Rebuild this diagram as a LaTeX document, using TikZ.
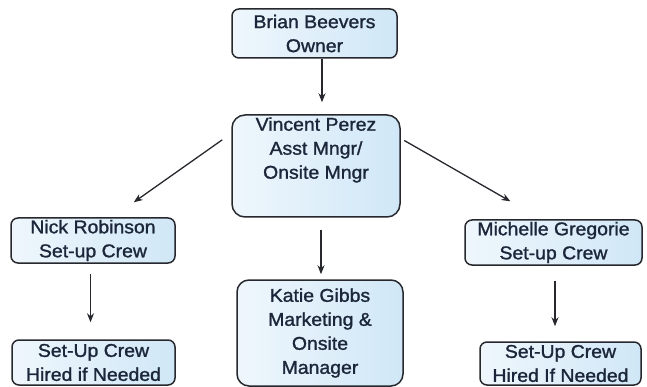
\documentclass[tikz,border=0pt]{standalone}
\usepackage{fontspec}
\setmainfont{Liberation Sans}[FakeStretch=1.05, FakeBold=1.3]
\usetikzlibrary{arrows.meta}

\definecolor{boxfill}{RGB}{208,231,247}
\definecolor{boxline}{RGB}{38,40,46}
\definecolor{boxtext}{RGB}{28,38,58}

\begin{document}
\begin{tikzpicture}[x=1pt, y=1pt,
    box/.style={draw=boxline, line width=1.5pt, left color=boxfill!35!white, right color=boxfill,
        rounded corners=7pt, align=center, text=boxtext, inner sep=0pt,
        font=\fontsize{18.5}{24}\selectfont},
    arr/.style={-{Stealth[length=9pt, width=7pt]}, line width=1.3pt, draw=boxline}]

    % Canvas
    \useasboundingbox (0,0) rectangle (647,-387);

    % Top level
    \node[box, minimum width=165pt, minimum height=49pt] (brian) at (314.5,-33.5) {Brian Beevers\\Owner};
    \node[box, minimum width=168pt, minimum height=102pt, rounded corners=13pt, text depth=36pt] (vincent) at (316,-166) {Vincent Perez\\Asst Mngr/\\Onsite Mngr};

    % Second level
    \node[box, minimum width=164pt, minimum height=45pt] (nick) at (93,-240.5) {Nick Robinson\\Set-up Crew};
    \node[box, minimum width=166pt, minimum height=106pt, rounded corners=12pt] (katie) at (320,-333) {Katie Gibbs\\Marketing \&\\Onsite\\Manager};
    \node[box, minimum width=177pt, minimum height=45pt] (michelle) at (553.5,-242.5) {Michelle Gregorie\\Set-up Crew};

    % Crews
    \node[box, minimum width=163pt, minimum height=45pt] (leftcrew) at (93.5,-362.5) {Set-Up Crew\\Hired if Needed};
    \node[box, minimum width=161pt, minimum height=43pt] (rightcrew) at (560.5,-363.5) {Set-Up Crew\\Hired If Needed};

    % Arrows
    \draw[arr, shorten >=12pt] ([xshift=7.5pt]brian.south) -- ([xshift=7.5pt]brian.south |- vincent.north);
    \draw[arr, shorten <=11pt, shorten >=26pt] (vincent.159) -- (nick.50);
    \draw[arr, shorten <=4pt, shorten >=36pt] (vincent.18) -- (michelle.117);
    \draw[arr, shorten <=12pt, shorten >=5pt] ([xshift=5pt]vincent.south) -- ([xshift=5pt]vincent.south |- katie.north);
    \draw[arr, shorten <=10pt, shorten >=17pt] ([xshift=-2.5pt]nick.south) -- ([xshift=-2.5pt]nick.south |- leftcrew.north);
    \draw[arr, shorten <=15pt, shorten >=15pt] ([xshift=1.5pt]michelle.south) -- ([xshift=1.5pt]michelle.south |- rightcrew.north);

\end{tikzpicture}
\end{document}
